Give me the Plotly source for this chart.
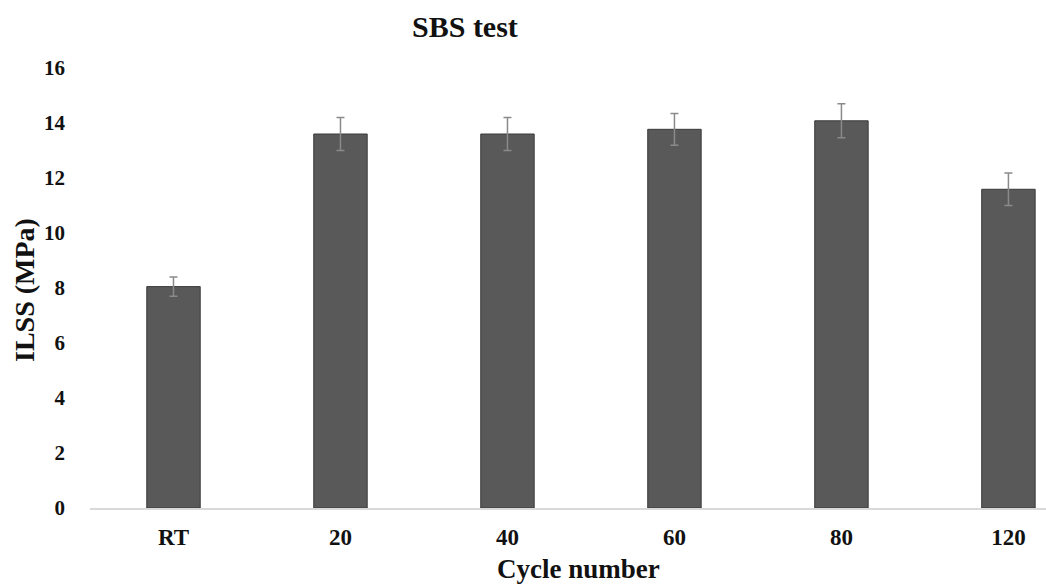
import plotly.graph_objects as go

categories = ["RT", "20", "40", "60", "80", "120"]
ilss = [8.05, 13.6, 13.6, 13.77, 14.08, 11.59]
ilss_err = [0.35, 0.6, 0.6, 0.58, 0.62, 0.59]
y_ticks = [0, 2, 4, 6, 8, 10, 12, 14, 16]

FONT = "Liberation Serif"

fig = go.Figure()
fig.add_trace(go.Bar(
    x=categories,
    y=ilss,
    width=0.32,
    marker=dict(color="#595959", line=dict(color="#3a3a3a", width=1)),
    error_y=dict(type="data", array=ilss_err, visible=True,
                 color="#8a8a8a", thickness=1.5, width=4),
))

fig.update_layout(
    width=1046, height=587,
    margin=dict(l=90, r=0, t=68, b=79),
    paper_bgcolor="white", plot_bgcolor="white",
    showlegend=False,
    font=dict(family=FONT, color="#111111"),
    xaxis=dict(
        type="category",
        range=[-0.5, 5.225],
        showgrid=False,
        showline=True, linecolor="#d9d9d9", linewidth=1.5,
        ticks="", ticklabelstandoff=8,
        tickfont=dict(family=FONT, size=23, color="#111111", weight="bold"),
        zeroline=False,
    ),
    yaxis=dict(
        range=[0, 16],
        tickvals=y_ticks,
        showgrid=False, showline=False, zeroline=False,
        ticks="", ticklabelstandoff=24,
        tickfont=dict(family=FONT, size=21, color="#111111", weight="bold"),
    ),
    annotations=[
        dict(text="<b>SBS test</b>", xref="paper", yref="paper",
             x=(465 - 90) / 956, y=(508 - 26) / 440,
             xanchor="center", yanchor="middle", showarrow=False,
             font=dict(family=FONT, size=30, color="#111111")),
        dict(text="<b>Cycle number</b>", xref="paper", yref="paper",
             x=(578 - 90) / 956, y=(508 - 569) / 440,
             xanchor="center", yanchor="middle", showarrow=False,
             font=dict(family=FONT, size=27, color="#111111")),
        dict(text="<b>ILSS (MPa)</b>", xref="paper", yref="paper",
             x=(24 - 90) / 956, y=(508 - 290) / 440,
             xanchor="center", yanchor="middle", showarrow=False, textangle=-90,
             font=dict(family=FONT, size=28, color="#111111")),
    ],
)

fig.write_html("out.html")
